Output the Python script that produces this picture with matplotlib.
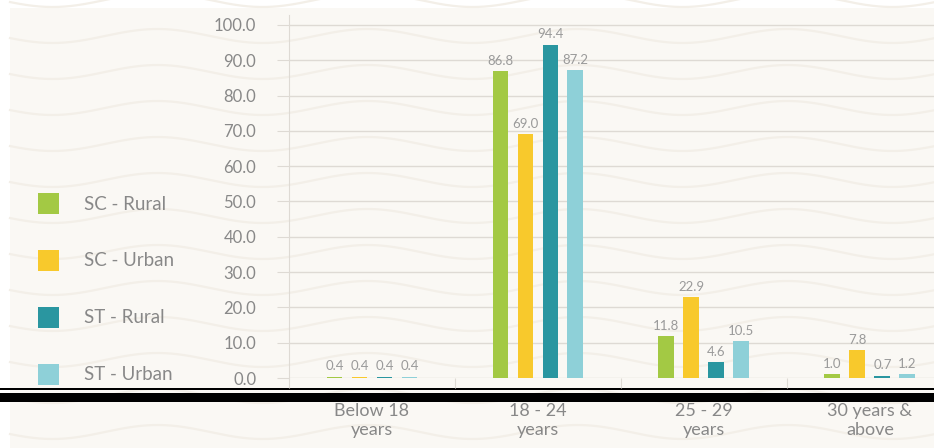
import numpy as np
import matplotlib
matplotlib.use('Agg')
from matplotlib import pyplot as plt
from matplotlib.patches import Rectangle

plt.rcParams['font.family'] = ['Lato', 'DejaVu Sans']

age_groups = ['Below 18\nyears', '18 - 24\nyears', '25 - 29\nyears', '30 years &\nabove']
series_names = ['SC - Rural', 'SC - Urban', 'ST - Rural', 'ST - Urban']
sc_rural = [0.4, 86.8, 11.8, 1.0]
sc_urban = [0.4, 69.0, 22.9, 7.8]
st_rural = [0.4, 94.4, 4.6, 0.7]
st_urban = [0.4, 87.2, 10.5, 1.2]
y_ticks = [0, 10, 20, 30, 40, 50, 60, 70, 80, 90, 100]

colors = ['#a3c944', '#f8c92c', '#2a96a0', '#8ed0d8']
text_gray = '#888888'
grid_gray = '#dedad4'
paper = '#faf8f4'

fig = plt.figure(figsize=(9.34, 4.48), dpi=100)
fig.patch.set_facecolor('white')

# paper background with faint waves, in pixel coordinates
bg = fig.add_axes([0, 0, 1, 1], zorder=-5)
bg.set_xlim(0, 934)
bg.set_ylim(448, 0)
bg.axis('off')
bg.add_patch(Rectangle((10, 8), 930, 445, color=paper, lw=0, zorder=0))
xs = np.linspace(10, 934, 600)
for y0 in np.arange(0, 470, 36):
    bg.plot(xs, y0 + 7 * np.sin(2 * np.pi * xs / 210), color='#f3efe8', lw=1.6,
            zorder=0.5)

ax = fig.add_axes([289 / 934, 70 / 448, 1 - 289 / 934, 363 / 448])
ax.set_facecolor('none')

x = np.arange(len(age_groups))
step = 0.1506
width = 0.096
all_series = [sc_rural, sc_urban, st_rural, st_urban]
for i, (name, vals) in enumerate(zip(series_names, all_series)):
    pos = x + (i - 1.5) * step
    ax.bar(pos, vals, width, color=colors[i], zorder=3, label=name)
    for px, v in zip(pos, vals):
        ax.annotate(f'{v:.1f}', (px, v), xytext=(0, 3), textcoords='offset points',
                    ha='center', va='bottom', fontsize=9.5, color='#9a9a9a')

ax.set_ylim(0, 102.8)
ax.set_xlim(-0.5, 3.386)
ax.set_yticks(y_ticks)
ax.set_yticklabels([f'{t:.1f}' for t in y_ticks])
ax.yaxis.grid(True, color=grid_gray, lw=1, zorder=0)
ax.tick_params(axis='y', length=8.6, color=grid_gray, pad=15, labelsize=12,
               labelcolor=text_gray)

# ticks between categories, labels at category centres
ax.set_xticks(np.arange(-0.5, 3.5, 1.0))
ax.set_xticklabels([])
ax.set_xticks(x, minor=True)
ax.set_xticklabels(age_groups, minor=True, fontsize=13, color=text_gray,
                   linespacing=1.2)
ax.tick_params(axis='x', which='major', length=7.5, color=grid_gray)
ax.tick_params(axis='x', which='minor', length=0, pad=18)

for side in ['top', 'right', 'bottom']:
    ax.spines[side].set_visible(False)
ax.spines['left'].set_color(grid_gray)

# legend as squares down the left side
for i, name in enumerate(series_names):
    yc = 204 + i * 56.7
    bg.add_patch(Rectangle((38, yc - 10.5), 21, 21, color=colors[i], lw=0, zorder=2))
    bg.text(84, yc, name, va='center', ha='left', fontsize=13.5, color=text_gray,
            zorder=3)

# black bands across the bottom
bg.add_patch(Rectangle((0, 388), 934, 2, color='black', lw=0, zorder=4))
bg.add_patch(Rectangle((0, 392.7), 934, 9, color='black', lw=0, zorder=4))

plt.savefig('out.png', dpi=100, facecolor=fig.get_facecolor())
